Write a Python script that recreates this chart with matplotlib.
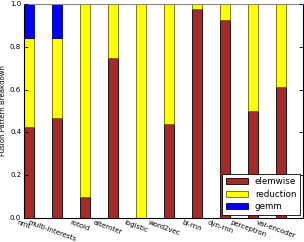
import matplotlib
matplotlib.use("Agg")
import matplotlib.pyplot as plt
import numpy as np

plt.style.use('classic')

categories = ["nmt", "multi-interests", "rotoid", "alternter", "logistic",
              "word2vec", "bi-rnn", "dyn-rnn", "perceptron", "var-encoder"]
elemwise = [0.425, 0.465, 0.098, 0.748, 0.0, 0.44, 0.975, 0.924, 0.50, 0.612]
reduction = [0.418, 0.378, 0.902, 0.252, 1.0, 0.56, 0.025, 0.076, 0.50, 0.388]
gemm = [0.157, 0.157, 0.0, 0.0, 0.0, 0.0, 0.0, 0.0, 0.0, 0.0]

fig = plt.figure(figsize=(3.04, 2.42), dpi=100, facecolor='white')
ax = fig.add_axes([24/304, 24/242, 279/304, 214/242])

x = np.arange(len(categories))
w = 0.35
e = np.array(elemwise)
r = np.array(reduction)
g = np.array(gemm)
ax.bar(x, e, w, align='edge', color='#a52a2a', edgecolor='k', linewidth=0.6, label='elemwise')
ax.bar(x, r, w, bottom=e, align='edge', color='yellow', edgecolor='#666600', linewidth=0.6, label='reduction')
ax.bar(x, g, w, bottom=e + r, align='edge', color='blue', edgecolor='#000066', linewidth=0.6, label='gemm')

ax.set_xlim(0, 9.96)
ax.set_ylim(0, 1.0)
ax.set_xticks(x)
ax.set_xticklabels(categories, rotation=-20, ha='center', fontsize=5.0)
ax.set_yticks([0.0, 0.2, 0.4, 0.6, 0.8, 1.0])
ax.set_yticklabels(["0.0", "0.2", "0.4", "0.6", "0.8", "1.0"], fontsize=5.0)
ax.tick_params(axis='x', length=0, pad=0.8)
ax.tick_params(axis='y', length=3, width=0.6, pad=2)
ax.set_ylabel("Fusion Pattern Breakdown", fontsize=5.0)
ax.yaxis.set_label_coords(-0.065, 0.5)
for s in ax.spines.values():
    s.set_linewidth(0.8)
ax.spines['top'].set_color('#888888')

leg = ax.legend(loc='lower right', fontsize=6.3, handlelength=2.5, borderpad=0.45,
                labelspacing=0.4, handletextpad=0.8, borderaxespad=0.3)
leg.get_frame().set_linewidth(0.6)

fig.savefig("out.png", dpi=100, facecolor='white')
